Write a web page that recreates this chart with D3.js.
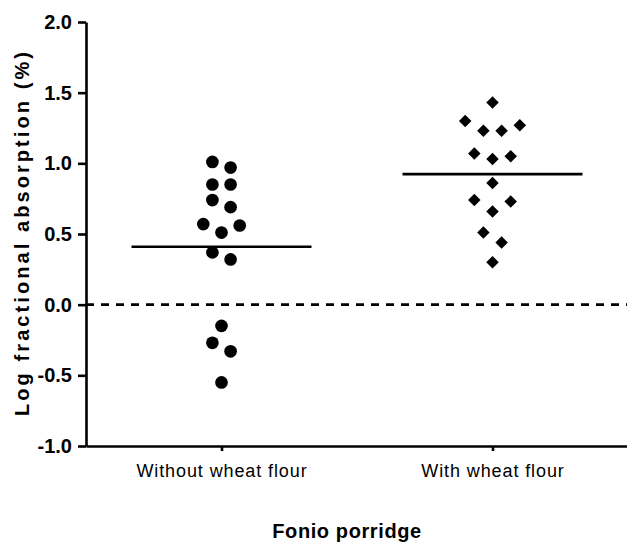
<!DOCTYPE html>
<html>
<head>
<meta charset="utf-8">
<script src="https://cdn.jsdelivr.net/npm/d3@7"></script>
<style>
  body { margin: 0; background: #fff; }
  text { font-family: "Liberation Sans", Arial, sans-serif; }
</style>
</head>
<body>
<div id="wrapper"></div>
<script>
// values (log fractional absorption, %)
const categories = ["Without wheat flour", "With wheat flour"]
const withoutWheat = [1.01, 0.97, 0.85, 0.85, 0.74, 0.69, 0.57, 0.56, 0.51, 0.37, 0.32, -0.15, -0.27, -0.33, -0.55]
const withWheat = [1.43, 1.30, 1.27, 1.23, 1.23, 1.07, 1.05, 1.03, 0.86, 0.74, 0.73, 0.66, 0.51, 0.44, 0.30]
const yTicks = [-1, -0.5, 0, 0.5, 1, 1.5, 2]
const yTitle = "Log fractional absorption (%)"
const xTitle = "Fonio porridge"

function drawChart() {
  const groups = [withoutWheat, withWheat]

  let dimensions = {
    width: 627,
    height: 543,
    margin: {
      top: 22,
      right: 0,
      bottom: 97,
      left: 86
    }
  }
  dimensions.boundedWidth = dimensions.width
    - dimensions.margin.left
    - dimensions.margin.right
  dimensions.boundedHeight = dimensions.height
    - dimensions.margin.top
    - dimensions.margin.bottom

  const wrapper = d3.select("#wrapper")
    .append("svg")
      .attr("width", dimensions.width)
      .attr("height", dimensions.height)

  const bounds = wrapper.append("g")
    .attr("transform", `translate(${dimensions.margin.left}, ${dimensions.margin.top})`)

  // scales
  const yScale = d3.scaleLinear()
    .domain([-1, 2])
    .range([dimensions.boundedHeight, 0])

  const xScale = d3.scalePoint()
    .domain(categories)
    .range([0, dimensions.boundedWidth + 1])
    .padding(0.5)

  // beeswarm: group points into rows one marker high,
  // then spread each row symmetrically (outer slots first)
  const markerSize = 12
  const slotWidth = 9.1
  const swarm = values => {
    const sorted = values.slice().sort(d3.descending)
    const rows = []
    sorted.forEach(v => {
      const row = rows[rows.length - 1]
      if (row && yScale(v) - yScale(row[0]) <= markerSize) row.push(v)
      else rows.push([v])
    })
    return rows.flatMap(row => {
      const n = row.length
      const slots = d3.range(n).map(i => 2 * i - (n - 1))
        .sort((a, b) => Math.abs(b) - Math.abs(a) || a - b)
      return row.map((v, i) => ({ value: v, slot: slots[i] }))
    })
  }

  // zero reference line
  bounds.append("line")
    .attr("x1", 0)
    .attr("x2", dimensions.boundedWidth + 1)
    .attr("y1", yScale(0))
    .attr("y2", yScale(0))
    .attr("stroke", "#000")
    .attr("stroke-width", 2.6)
    .attr("stroke-dasharray", "8 7")

  // points
  const symbols = [d3.symbolCircle, d3.symbolSquare]
  const symbolSizes = [126, 78]
  const symbolRotate = [0, 45]

  groups.forEach((values, i) => {
    const cx = xScale(categories[i])
    const symbol = d3.symbol().type(symbols[i]).size(symbolSizes[i])

    bounds.append("g")
      .selectAll("path")
      .data(swarm(values))
      .join("path")
        .attr("d", symbol)
        .attr("transform", d => `translate(${cx + d.slot * slotWidth}, ${yScale(d.value)}) rotate(${symbolRotate[i]})`)
        .attr("fill", "#000")

    // mean line
    const mean = d3.mean(values)
    bounds.append("line")
      .attr("x1", cx - 90)
      .attr("x2", cx + 90)
      .attr("y1", yScale(mean))
      .attr("y2", yScale(mean))
      .attr("stroke", "#000")
      .attr("stroke-width", 2.6)
  })

  // y axis
  const yAxisGenerator = d3.axisLeft()
    .scale(yScale)
    .tickValues(yTicks)
    .tickFormat(d => d.toFixed(1))
    .tickSize(8)
    .tickSizeOuter(0)
    .tickPadding(6)

  const yAxis = bounds.append("g")
    .call(yAxisGenerator)
  yAxis.selectAll("path, line")
    .attr("stroke", "#000")
    .attr("stroke-width", 2.6)
  yAxis.selectAll("text")
    .attr("fill", "#000")
    .style("font-size", "20px")
    .style("font-weight", "bold")
    .style("font-family", "'Liberation Sans', Arial, sans-serif")

  // x axis
  const xAxisGenerator = d3.axisBottom()
    .scale(xScale)
    .tickSize(5)
    .tickSizeOuter(0)
    .tickPadding(13)

  const xAxis = bounds.append("g")
    .attr("transform", `translate(0, ${dimensions.boundedHeight})`)
    .call(xAxisGenerator)
  xAxis.selectAll("path, line")
    .attr("stroke", "#000")
    .attr("stroke-width", 2.6)
  xAxis.selectAll("text")
    .attr("fill", "#000")
    .style("font-size", "18px")
    .style("letter-spacing", "0.9px")
    .style("font-family", "'Liberation Sans', Arial, sans-serif")

  // axis titles
  wrapper.append("text")
    .attr("transform", `translate(29, ${dimensions.margin.top + yScale(0.5)}) rotate(-90)`)
    .attr("text-anchor", "middle")
    .attr("textLength", 364)
    .attr("lengthAdjust", "spacing")
    .style("font-size", "20px")
    .style("font-weight", "bold")
    .text(yTitle)

  wrapper.append("text")
    .attr("x", 347)
    .attr("y", 538)
    .attr("text-anchor", "middle")
    .style("font-size", "20px")
    .style("font-weight", "bold")
    .style("letter-spacing", "0.6px")
    .text(xTitle)
}

drawChart()
</script>
</body>
</html>
